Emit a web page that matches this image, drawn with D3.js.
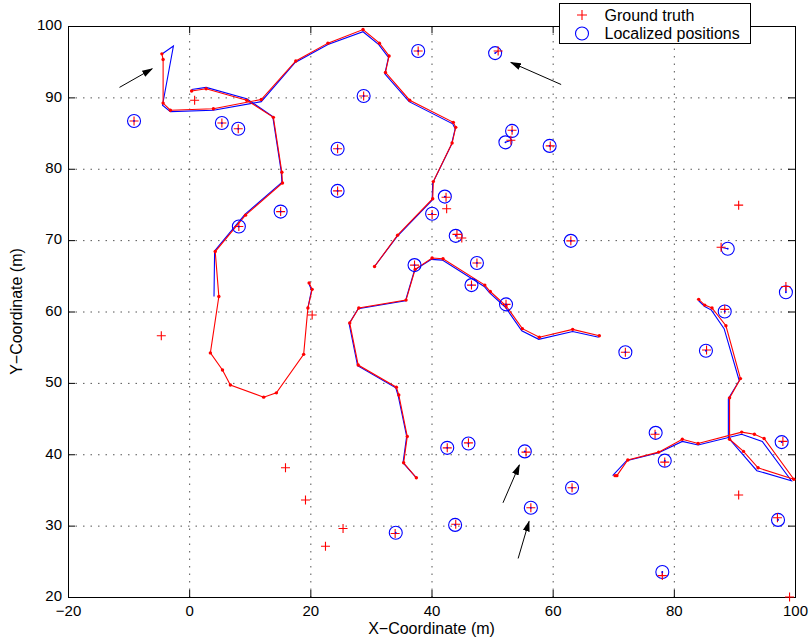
<!DOCTYPE html>
<html lang="en">
<head>
<meta charset="UTF-8">
<title>Ground truth vs localized positions</title>
<style>
* { margin: 0; padding: 0; }
body { background: #fff; font-family: "Liberation Sans", Arial, Helvetica, sans-serif; }
svg { display: block; }
.tick text { font-size: 15px; fill: #000; font-family: "Liberation Sans", Arial, sans-serif; }
.tick line { stroke: #000; }
.grid line { stroke: #555; stroke-width: 1; stroke-dasharray: 1.5,6; }
.axis-label { font-size: 16px; fill: #000; }
.legend-text { font-size: 16px; fill: #000; }
</style>
</head>
<body>
<div id="chart"></div>
<script src="https://cdn.jsdelivr.net/npm/d3@7"></script>
<script>
// axis ticks
var xTicks = [-20, 0, 20, 40, 60, 80, 100];
var yTicks = [20, 30, 40, 50, 60, 70, 80, 90, 100];

// mobile node trajectories: ground truth (red) and localized (blue)
var path1True = [[-4.5,96.1],[-4.3,95.3],[-4.3,89.2],[-3.1,88.2],[4.0,88.4],[11.9,89.7],[17.6,95.1],[22.9,97.6],[28.7,99.5],[31.4,97.6],[33.0,95.8],[32.4,93.5],[36.4,89.6],[43.6,86.5],[44.0,85.8],[43.4,83.6],[40.3,78.2],[40.2,75.8],[34.4,70.7],[30.6,66.3]];
var path1Est = [[-4.6,96.0],[-2.6,97.2],[-4.4,88.9],[-3.1,88.0],[4.0,88.2],[11.9,89.4],[17.5,94.9],[22.9,97.4],[28.7,99.2],[31.3,97.4],[32.9,95.6],[32.3,93.3],[36.3,89.4],[43.5,86.3],[43.9,85.6],[43.3,83.4],[40.2,78.0],[40.1,75.6],[34.3,70.5],[30.5,66.2]];

var path2True = [[0.4,90.9],[2.8,91.2],[9.5,89.6],[13.9,87.2],[15.3,79.5],[15.4,78.0],[9.3,73.5],[4.3,68.4],[4.9,62.1],[3.5,54.2],[5.5,51.8],[6.8,49.7],[12.3,48.0],[14.4,48.6],[18.9,54.0],[19.6,60.5],[20.3,63.1],[19.8,64.0]];
var path2EstA = [[0.4,91.1],[2.8,91.4],[9.5,89.8],[13.8,87.3],[15.2,79.6],[15.3,78.1],[9.2,73.6],[4.2,68.5],[4.1,62.1]];
var path2EstB = [[19.6,60.5],[20.2,63.0],[19.8,63.8]];

var path3True = [[37.5,36.7],[35.4,38.8],[36.0,42.5],[34.6,48.3],[34.2,49.4],[27.9,52.5],[26.5,58.4],[28.0,60.5],[35.8,61.6],[37.3,65.9],[40.1,67.5],[41.9,67.4],[48.8,63.7],[49.7,62.8],[52.3,60.8],[55.0,57.6],[57.8,56.4],[63.3,57.5],[67.7,56.6]];
var path3Est = [[37.4,36.8],[35.3,38.8],[35.9,42.5],[34.5,48.2],[34.1,49.3],[27.8,52.4],[26.4,58.3],[27.9,60.4],[35.7,61.5],[37.2,65.8],[40.0,67.3],[41.8,67.2],[48.7,63.5],[49.6,62.6],[52.2,60.6],[54.9,57.3],[57.7,56.1],[63.3,57.2],[67.6,56.4]];

var path4True = [[84.1,61.7],[85.1,60.9],[86.3,60.5],[88.6,58.0],[91.0,50.6],[89.2,47.9],[89.2,42.1],[91.5,40.4],[93.9,38.1],[99.8,36.5],[94.9,42.2],[93.3,42.8],[91.2,43.1],[84.0,41.5],[81.4,42.1],[77.5,40.3],[72.4,39.2],[70.6,37.0],[70.3,37.0]];
var path4Est = [[84.1,61.5],[85.1,60.7],[86.2,60.2],[88.3,57.6],[90.8,50.3],[89.0,47.8],[89.0,42.3],[93.7,37.7],[99.4,36.3],[94.6,41.8],[91.2,42.8],[84.0,41.3],[81.4,41.8],[77.5,40.2],[72.2,39.1],[69.9,37.0]];

// static nodes: ground truth and localized estimate
var staticTrue = [[-9.1,86.7],[5.4,86.4],[8.1,85.6],[37.8,96.5],[51.0,96.5],[28.8,90.2],[53.3,85.4],[53.1,84.0],[59.6,83.2],[24.5,82.8],[24.5,76.9],[42.4,76.0],[40.1,73.6],[44.2,70.8],[37.2,66.5],[47.5,66.8],[46.6,63.7],[52.3,61.0],[8.2,71.9],[15.1,74.0],[63.0,69.9],[87.8,69.0],[98.5,63.5],[88.4,60.3],[72.0,54.3],[85.4,54.6],[34.0,28.9],[42.6,40.9],[46.1,41.6],[55.6,40.3],[56.4,32.5],[44.0,30.2],[76.9,42.8],[78.5,38.9],[63.2,35.3],[98.0,41.8],[97.1,31.1],[78.1,23.0]];
var staticEst = [[-9.1,86.7],[5.4,86.4],[8.1,85.6],[37.8,96.5],[50.5,96.2],[28.8,90.2],[53.3,85.3],[52.2,83.7],[59.5,83.2],[24.5,82.8],[24.5,76.9],[42.2,76.1],[40.1,73.7],[44.0,70.6],[37.2,66.5],[47.5,66.8],[46.6,63.7],[52.3,61.0],[8.2,71.9],[15.1,74.0],[63.0,69.9],[88.9,68.8],[98.5,62.7],[88.4,60.0],[72.0,54.3],[85.3,54.5],[34.1,29.0],[42.6,40.9],[46.1,41.5],[55.4,40.4],[56.4,32.5],[43.9,30.1],[77.0,43.0],[78.5,39.1],[63.2,35.3],[97.8,41.7],[97.2,30.8],[78.1,23.5]];
// nodes with no localized estimate
var unlocalized = [[0.9,89.6],[-4.6,56.6],[20.3,59.5],[42.5,74.4],[45.0,70.3],[90.7,74.9],[15.9,38.1],[19.2,33.6],[25.4,29.6],[22.5,27.1],[90.7,34.3],[99.1,20.0]];

// annotation arrows (tail -> head, data units)
var arrowTails = [[-11.5,91.4],[61.4,91.8],[51.8,33.2],[54.3,25.4]];
var arrowHeads = [[-6.1,94.0],[53.1,94.9],[54.5,38.5],[56.1,30.6]];

var W = 809, H = 642;
var margin = { left: 68, top: 26, right: 14, bottom: 45 };
var width = W - margin.left - margin.right;
var height = H - margin.top - margin.bottom;

var svg = d3.select("#chart").append("svg").attr("width", W).attr("height", H);

svg.append("defs").append("marker")
	.attr("id", "arrow")
	.attr("viewBox", "0 -4 11 8")
	.attr("refX", 10).attr("refY", 0)
	.attr("markerUnits", "userSpaceOnUse")
	.attr("markerWidth", 11).attr("markerHeight", 8)
	.attr("orient", "auto")
	.append("path")
	.attr("d", "M0,-3.5L11,0L0,3.5Z")
	.attr("fill", "#000");

var g = svg.append("g").attr("transform", "translate(" + margin.left + "," + margin.top + ")");

var x = d3.scaleLinear().domain([-20, 100]).range([0, width]);
var y = d3.scaleLinear().domain([20, 100]).range([height, 0]);

// dotted grid
var grid = g.append("g").attr("class", "grid");
grid.selectAll("line.gx").data(xTicks.slice(1, -1)).join("line")
	.attr("class", "gx")
	.attr("x1", function(d) { return x(d) + 0.5; }).attr("x2", function(d) { return x(d) + 0.5; })
	.attr("y1", 0).attr("y2", height);
grid.selectAll("line.gy").data(yTicks.slice(1, -1)).join("line")
	.attr("class", "gy")
	.attr("y1", function(d) { return y(d) + 0.5; }).attr("y2", function(d) { return y(d) + 0.5; })
	.attr("x1", 0).attr("x2", width);

// axes with inward ticks on all four sides
function stripDomain(sel) { sel.select(".domain").remove(); }
g.append("g").attr("transform", "translate(0," + height + ")")
	.call(d3.axisBottom(x).tickValues(xTicks).tickSize(-7).tickPadding(8))
	.call(stripDomain);
g.append("g")
	.call(d3.axisLeft(y).tickValues(yTicks).tickSize(-7).tickPadding(6))
	.call(stripDomain)
	.selectAll(".tick text").attr("dy", "0.25em");
g.append("g")
	.call(d3.axisTop(x).tickValues(xTicks).tickSize(-7).tickFormat(""))
	.call(stripDomain);
g.append("g").attr("transform", "translate(" + width + ",0)")
	.call(d3.axisRight(y).tickValues(yTicks).tickSize(-7).tickFormat(""))
	.call(stripDomain);

g.append("rect")
	.attr("x", 0.5).attr("y", 0.5)
	.attr("width", width).attr("height", height)
	.attr("fill", "none").attr("stroke", "#000").attr("stroke-width", 1);

var line = d3.line().x(function(d) { return x(d[0]); }).y(function(d) { return y(d[1]); });

var truePaths = [path1True, path2True, path3True, path4True];
var estPaths = [path1Est, path2EstA, path2EstB, path3Est, path4Est];

var plot = g.append("g");

plot.selectAll("path.est").data(estPaths).join("path")
	.attr("class", "est")
	.attr("d", line)
	.attr("fill", "none").attr("stroke", "#0000ff").attr("stroke-width", 1.1);

plot.selectAll("path.truth").data(truePaths).join("path")
	.attr("class", "truth")
	.attr("d", line)
	.attr("fill", "none").attr("stroke", "#ff0000").attr("stroke-width", 1.1);

var allVertices = [].concat(path1True, path2True, path3True, path4True);
plot.selectAll("circle.vtx").data(allVertices).join("circle")
	.attr("class", "vtx")
	.attr("cx", function(d) { return x(d[0]); })
	.attr("cy", function(d) { return y(d[1]); })
	.attr("r", 1.7)
	.attr("fill", "#ff0000");

// static nodes: error line, circle for the estimate, plus for the truth
plot.selectAll("line.err").data(staticEst).join("line")
	.attr("class", "err")
	.attr("x1", function(d) { return x(d[0]); })
	.attr("y1", function(d) { return y(d[1]); })
	.attr("x2", function(d, i) { return x(staticTrue[i][0]); })
	.attr("y2", function(d, i) { return y(staticTrue[i][1]); })
	.attr("stroke", "#0000ff").attr("stroke-width", 1.1);

plot.selectAll("circle.est").data(staticEst).join("circle")
	.attr("class", "est")
	.attr("cx", function(d) { return x(d[0]); })
	.attr("cy", function(d) { return y(d[1]); })
	.attr("r", 6.5)
	.attr("fill", "none").attr("stroke", "#0000ff").attr("stroke-width", 1.1);

var plusPts = staticTrue.concat(unlocalized);
plot.selectAll("path.plus").data(plusPts).join("path")
	.attr("class", "plus")
	.attr("d", function(d) {
		var cx = x(d[0]), cy = y(d[1]), s = 4.5;
		return "M" + (cx - s) + "," + cy + "H" + (cx + s) + "M" + cx + "," + (cy - s) + "V" + (cy + s);
	})
	.attr("stroke", "#ff0000").attr("stroke-width", 1.1).attr("fill", "none");

plot.selectAll("path.dot").data(staticEst).join("circle")
	.attr("class", "dot")
	.attr("cx", function(d) { return x(d[0]); })
	.attr("cy", function(d) { return y(d[1]); })
	.attr("r", 0.9)
	.attr("fill", "#0000ff");

// annotation arrows
plot.selectAll("line.arrow").data(arrowTails).join("line")
	.attr("class", "arrow")
	.attr("x1", function(d) { return x(d[0]); })
	.attr("y1", function(d) { return y(d[1]); })
	.attr("x2", function(d, i) { return x(arrowHeads[i][0]); })
	.attr("y2", function(d, i) { return y(arrowHeads[i][1]); })
	.attr("stroke", "#000").attr("stroke-width", 1)
	.attr("marker-end", "url(#arrow)");

// axis labels
svg.append("text").attr("class", "axis-label")
	.attr("x", margin.left + width / 2).attr("y", 634)
	.attr("text-anchor", "middle")
	.text("X\u2212Coordinate (m)");
svg.append("text").attr("class", "axis-label")
	.attr("transform", "translate(22," + (margin.top + height / 2) + ") rotate(-90)")
	.attr("text-anchor", "middle")
	.text("Y\u2212Coordinate (m)");

// legend
var legend = svg.append("g").attr("transform", "translate(559.5,3.5)");
legend.append("rect")
	.attr("width", 191).attr("height", 40)
	.attr("fill", "#fff").attr("stroke", "#000").attr("stroke-width", 1);
legend.append("path")
	.attr("d", "M17.5,11.5H27.5M22.5,6.5V16.5")
	.attr("stroke", "#ff0000").attr("stroke-width", 1.1);
legend.append("circle")
	.attr("cx", 22.5).attr("cy", 30).attr("r", 6.5)
	.attr("fill", "none").attr("stroke", "#0000ff").attr("stroke-width", 1.1);
legend.append("text").attr("class", "legend-text").attr("x", 45).attr("y", 17).text("Ground truth");
legend.append("text").attr("class", "legend-text").attr("x", 45).attr("y", 35).text("Localized positions");
</script>
</body>
</html>
